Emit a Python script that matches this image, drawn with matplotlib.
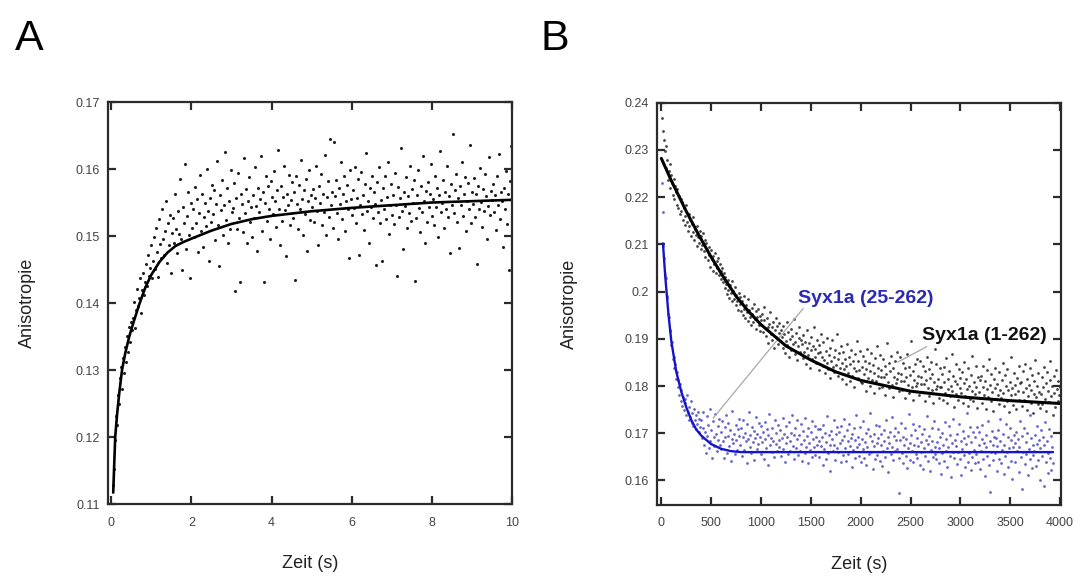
import matplotlib
matplotlib.use("Agg")
import matplotlib.pyplot as plt
from matplotlib.ticker import FuncFormatter
import numpy as np

plt.rcParams["font.family"] = ["Liberation Sans", "DejaVu Sans"]

# ---- panel A: anisotropy rise (values in 1e-4 units) ----
a_y_raw = [
    1128, 1152, 1196, 1231, 1218, 1262, 1249, 1288, 1305, 1271, 1318, 1296, 1335, 1312, 1351, 1327, 1364, 1342, 1371, 1359,
    1378, 1402, 1363, 1389, 1421, 1396, 1408, 1437, 1385, 1419, 1445, 1412, 1432, 1458, 1426, 1471, 1440, 1452, 1486, 1437,
    1463, 1498, 1451, 1512, 1476, 1439, 1525, 1488, 1467, 1541, 1495, 1472, 1508, 1553, 1460, 1519, 1487, 1532, 1445, 1504,
    1527, 1489, 1562, 1511, 1474, 1538, 1503, 1585, 1496, 1449, 1544, 1519, 1607, 1481, 1530, 1566, 1502, 1437, 1549, 1512,
    1541, 1498, 1573, 1520, 1555, 1476, 1534, 1591, 1507, 1562, 1483, 1528, 1549, 1515, 1600, 1538, 1462, 1557, 1521, 1576,
    1533, 1569, 1494, 1548, 1612, 1517, 1455, 1561, 1539, 1584, 1502, 1547, 1626, 1524, 1571, 1489, 1553, 1510, 1598, 1536,
    1542, 1579, 1418, 1556, 1511, 1594, 1527, 1432, 1563, 1548, 1506, 1617, 1535, 1570, 1489, 1552, 1588, 1521, 1544, 1498,
    1561, 1527, 1603, 1545, 1478, 1572, 1536, 1555, 1619, 1508, 1566, 1431, 1549, 1590, 1523, 1574, 1541, 1496, 1582, 1558,
    1533, 1597, 1552, 1514, 1568, 1629, 1541, 1487, 1575, 1522, 1558, 1604, 1539, 1470, 1563, 1546, 1591, 1517, 1554, 1580,
    1527, 1566, 1435, 1589, 1548, 1511, 1576, 1540, 1613, 1555, 1502, 1569, 1533, 1585, 1478, 1552, 1598, 1524, 1561, 1543,
    1570, 1521, 1556, 1604, 1538, 1486, 1574, 1549, 1592, 1517, 1563, 1536, 1621, 1501, 1558, 1582, 1529, 1645, 1547, 1566,
    1512, 1641, 1559, 1583, 1535, 1496, 1571, 1548, 1610, 1526, 1563, 1589, 1507, 1552, 1576, 1540, 1467, 1598, 1555, 1531,
    1568, 1542, 1603, 1519, 1557, 1585, 1472, 1546, 1596, 1533, 1561, 1509, 1577, 1624, 1538, 1552, 1489, 1571, 1544, 1590,
    1527, 1565, 1548, 1457, 1581, 1536, 1603, 1519, 1554, 1462, 1572, 1540, 1589, 1525, 1558, 1611, 1503, 1546, 1577, 1532,
    1561, 1518, 1594, 1547, 1440, 1573, 1529, 1556, 1632, 1538, 1481, 1566, 1545, 1588, 1512, 1559, 1535, 1604, 1523, 1570,
    1549, 1583, 1433, 1527, 1561, 1598, 1542, 1506, 1574, 1536, 1619, 1553, 1490, 1567, 1521, 1580, 1544, 1562, 1608, 1530,
    1555, 1517, 1589, 1543, 1571, 1498, 1561, 1627, 1536, 1550, 1583, 1512, 1566, 1540, 1604, 1528, 1559, 1475, 1577, 1546,
    1653, 1534, 1568, 1593, 1521, 1557, 1482, 1574, 1546, 1611, 1530, 1562, 1588, 1507, 1553, 1579, 1541, 1636, 1519, 1565,
    1548, 1586, 1529, 1563, 1458, 1575, 1540, 1602, 1551, 1514, 1570, 1537, 1593, 1560, 1496, 1545, 1618, 1532, 1567, 1554,
    1578, 1536, 1561, 1509, 1589, 1547, 1623, 1525, 1566, 1552, 1483, 1571, 1540, 1597, 1518, 1563, 1449, 1582, 1635, 1544,
]
a_fit_t = [0.05, 0.1, 0.15, 0.2, 0.27, 0.35, 0.45, 0.55, 0.7, 0.85, 1.0, 1.2, 1.4, 1.6, 1.8,
           2.0, 2.5, 3.0, 3.5, 4.0, 5.0, 6.0, 7.0, 8.0, 9.0, 10.0]
a_fit_y = [0.1117, 0.1200, 0.1236, 0.1265, 0.1300, 0.1325, 0.1350, 0.1370, 0.1398, 0.1423,
           0.1442, 0.1461, 0.1475, 0.1485, 0.1491, 0.1496, 0.1508, 0.1518, 0.1525, 0.1530,
           0.1537, 0.1542, 0.1546, 0.1550, 0.1552, 0.1554]

# ---- panel B: Syx1a (1-262), black ----
b_black_raw = [
    2368, 2341, 2322, 2297, 2308, 2262, 2279, 2236, 2255, 2271, 2219, 2247, 2230, 2205, 2238, 2196, 2224, 2211, 2183, 2217, 2178, 2202, 2164, 2195, 2171,
    2189, 2152, 2176, 2160, 2141, 2183, 2147, 2129, 2165, 2138, 2152, 2117, 2144, 2126, 2158, 2109, 2133, 2120, 2097, 2139, 2115, 2102, 2128, 2091, 2117,
    2098, 2125, 2086, 2109, 2073, 2102, 2089, 2066, 2094, 2078, 2052, 2087, 2069, 2043, 2075, 2058, 2081, 2040, 2064, 2049, 2071, 2035, 2058, 2044, 2027,
    2050, 2021, 2039, 2008, 2031, 2016, 1994, 2025, 2003, 1987, 2014, 1998, 2022, 1979, 2001, 1985, 2009, 1971, 1993, 1980, 1962, 1997, 1974, 1988, 1958,
    1979, 1951, 1990, 1963, 1944, 1972, 1956, 1985, 1938, 1961, 1947, 1929, 1966, 1952, 1935, 1974, 1941, 1958, 1921, 1946, 1963, 1930, 1949, 1917, 1940,
    1952, 1914, 1939, 1968, 1922, 1905, 1943, 1926, 1891, 1931, 1957, 1910, 1924, 1898, 1936, 1881, 1919, 1945, 1903, 1927, 1889, 1912, 1934, 1896, 1918,
    1904, 1928, 1881, 1911, 1870, 1896, 1935, 1887, 1915, 1862, 1899, 1921, 1876, 1906, 1889, 1941, 1868, 1893, 1913, 1855, 1884, 1902, 1925, 1872, 1897,
    1888, 1859, 1907, 1873, 1894, 1846, 1880, 1918, 1865, 1891, 1839, 1876, 1903, 1857, 1884, 1926, 1862, 1879, 1848, 1897, 1869, 1834, 1886, 1872, 1910,
    1861, 1842, 1893, 1855, 1827, 1874, 1849, 1902, 1835, 1866, 1818, 1881, 1853, 1897, 1840, 1862, 1829, 1876, 1845, 1911, 1857, 1822, 1869, 1838, 1884,
    1849, 1815, 1872, 1836, 1858, 1804, 1843, 1889, 1827, 1861, 1810, 1846, 1877, 1822, 1853, 1798, 1839, 1868, 1831, 1895, 1817, 1852, 1834, 1874, 1808,
    1841, 1806, 1863, 1825, 1852, 1790, 1836, 1879, 1817, 1848, 1801, 1832, 1870, 1813, 1845, 1785, 1828, 1859, 1810, 1885, 1822, 1839, 1796, 1866, 1819,
    1834, 1798, 1857, 1820, 1843, 1781, 1826, 1892, 1809, 1848, 1795, 1831, 1864, 1803, 1838, 1776, 1819, 1852, 1806, 1873, 1814, 1828, 1789, 1861, 1811,
    1826, 1792, 1849, 1811, 1838, 1774, 1819, 1867, 1802, 1841, 1785, 1823, 1896, 1797, 1832, 1770, 1812, 1846, 1799, 1858, 1807, 1821, 1780, 1853, 1804,
    1819, 1787, 1843, 1805, 1831, 1769, 1813, 1862, 1796, 1835, 1779, 1817, 1851, 1791, 1826, 1765, 1808, 1879, 1793, 1847, 1801, 1815, 1774, 1838, 1798,
    1797, 1826, 1771, 1840, 1808, 1785, 1859, 1764, 1815, 1793, 1832, 1778, 1801, 1868, 1789, 1822, 1756, 1811, 1847, 1783, 1804, 1770, 1836, 1795, 1818,
    1786, 1829, 1763, 1807, 1851, 1779, 1815, 1794, 1758, 1838, 1801, 1772, 1824, 1790, 1863, 1768, 1809, 1784, 1843, 1797, 1753, 1820, 1788, 1812, 1775,
    1821, 1765, 1798, 1842, 1781, 1810, 1752, 1834, 1793, 1776, 1857, 1803, 1769, 1826, 1787, 1748, 1815, 1796, 1839, 1772, 1805, 1782, 1761, 1830, 1791,
    1774, 1812, 1849, 1786, 1757, 1823, 1799, 1768, 1836, 1792, 1745, 1808, 1781, 1861, 1795, 1760, 1827, 1784, 1802, 1751, 1818, 1789, 1843, 1771, 1806,
    1809, 1758, 1832, 1787, 1771, 1846, 1796, 1749, 1815, 1779, 1803, 1838, 1765, 1792, 1824, 1742, 1784, 1811, 1855, 1776, 1799, 1762, 1828, 1788, 1753,
    1783, 1819, 1761, 1797, 1840, 1773, 1806, 1747, 1829, 1790, 1766, 1813, 1852, 1778, 1801, 1739, 1822, 1785, 1756, 1834, 1794, 1769, 1810, 1781, 1798,
]
b_black_fit_t = [0, 100, 250, 375, 500, 625, 750, 875, 1000, 1250, 1500, 1750, 2000, 2500, 3000, 3500, 4000]
b_black_fit_y = [0.2282, 0.2235, 0.2170, 0.2120, 0.2073, 0.2030, 0.1990, 0.1958, 0.1930,
                 0.1885, 0.1855, 0.1830, 0.1812, 0.1789, 0.1777, 0.1769, 0.1763]

# ---- panel B: Syx1a (25-262), blue ----
b_blue_raw = [
    2231, 2168, 2097, 2071, 2035, 2028, 1991, 1987, 1953, 1947, 1918, 1916, 1887, 1893, 1858, 1862, 1838, 1847, 1815, 1829, 1798, 1812, 1781, 1804, 1769,
    1791, 1758, 1776, 1749, 1772, 1763, 1738, 1781, 1745, 1729, 1756, 1734, 1768, 1722, 1742, 1715, 1751, 1727, 1708, 1739, 1719, 1746, 1702, 1731, 1714,
    1728, 1689, 1711, 1745, 1676, 1702, 1659, 1737, 1694, 1718, 1668, 1751, 1683, 1706, 1647, 1725, 1691, 1672, 1740, 1698, 1663, 1716, 1685, 1731, 1674,
    1702, 1667, 1726, 1684, 1648, 1713, 1691, 1739, 1659, 1695, 1722, 1673, 1706, 1641, 1688, 1747, 1679, 1699, 1655, 1718, 1686, 1664, 1709, 1694, 1731,
    1676, 1711, 1652, 1693, 1728, 1665, 1701, 1684, 1637, 1719, 1688, 1746, 1670, 1697, 1658, 1714, 1681, 1704, 1643, 1690, 1735, 1667, 1699, 1678, 1721,
    1692, 1655, 1716, 1681, 1703, 1646, 1724, 1687, 1669, 1709, 1632, 1696, 1741, 1674, 1690, 1660, 1712, 1683, 1649, 1727, 1678, 1700, 1663, 1718, 1685,
    1671, 1706, 1652, 1689, 1733, 1666, 1698, 1640, 1715, 1679, 1693, 1657, 1724, 1684, 1662, 1701, 1738, 1673, 1645, 1696, 1710, 1668, 1687, 1729, 1654,
    1697, 1663, 1720, 1678, 1641, 1705, 1686, 1658, 1732, 1671, 1694, 1636, 1712, 1680, 1665, 1703, 1649, 1726, 1688, 1670, 1715, 1653, 1691, 1676, 1708,
    1684, 1650, 1709, 1672, 1693, 1633, 1718, 1667, 1700, 1645, 1681, 1736, 1659, 1696, 1674, 1621, 1705, 1688, 1662, 1727, 1676, 1643, 1698, 1669, 1713,
    1660, 1702, 1679, 1638, 1715, 1686, 1654, 1695, 1731, 1668, 1641, 1707, 1683, 1657, 1720, 1672, 1690, 1628, 1699, 1664, 1711, 1648, 1685, 1739, 1670,
    1693, 1652, 1677, 1714, 1639, 1688, 1666, 1725, 1647, 1681, 1701, 1632, 1670, 1709, 1657, 1694, 1743, 1661, 1684, 1625, 1698, 1673, 1645, 1717, 1679,
    1654, 1689, 1716, 1642, 1675, 1698, 1631, 1663, 1707, 1684, 1649, 1728, 1668, 1691, 1617, 1679, 1702, 1656, 1735, 1671, 1643, 1695, 1662, 1712, 1686,
    1667, 1703, 1573, 1648, 1685, 1722, 1659, 1693, 1636, 1676, 1710, 1651, 1688, 1626, 1669, 1741, 1680, 1644, 1697, 1662, 1719, 1638, 1674, 1706, 1655,
    1690, 1647, 1672, 1715, 1633, 1681, 1660, 1699, 1624, 1668, 1708, 1652, 1686, 1737, 1641, 1677, 1695, 1619, 1664, 1711, 1683, 1650, 1726, 1671, 1657,
    1645, 1682, 1709, 1637, 1669, 1693, 1614, 1658, 1701, 1676, 1642, 1724, 1663, 1688, 1629, 1671, 1716, 1652, 1696, 1607, 1679, 1661, 1731, 1648, 1685,
    1673, 1634, 1698, 1661, 1720, 1646, 1684, 1612, 1667, 1705, 1653, 1690, 1628, 1677, 1742, 1640, 1694, 1659, 1713, 1622, 1681, 1649, 1702, 1665, 1636,
    1691, 1657, 1714, 1639, 1676, 1702, 1625, 1663, 1687, 1718, 1645, 1679, 1609, 1670, 1697, 1652, 1726, 1632, 1684, 1575, 1661, 1705, 1643, 1674, 1693,
    1658, 1689, 1621, 1672, 1707, 1646, 1683, 1731, 1637, 1665, 1699, 1613, 1676, 1651, 1719, 1660, 1692, 1628, 1668, 1710, 1642, 1685, 1604, 1671, 1696,
    1679, 1640, 1703, 1663, 1688, 1618, 1671, 1725, 1649, 1694, 1582, 1660, 1712, 1635, 1682, 1656, 1700, 1611, 1667, 1738, 1645, 1690, 1627, 1674, 1653,
    1662, 1697, 1631, 1678, 1715, 1644, 1686, 1601, 1669, 1706, 1652, 1692, 1588, 1675, 1723, 1639, 1683, 1615, 1659, 1708, 1647, 1694, 1622, 1671, 1636,
]
b_blue_fit_t = [16, 40, 70, 100, 150, 200, 250, 300, 350, 400, 500, 600, 700, 800, 1500, 3930]
b_blue_fit_y = [0.2102, 0.2030, 0.1955, 0.1895, 0.1830, 0.1788, 0.1755, 0.1728, 0.1708,
                0.1695, 0.1677, 0.1667, 0.1662, 0.1660, 0.1660, 0.1660]

labels_b = ["Syx1a (25-262)", "Syx1a (1-262)"]
label_pos_b = [(2050, 0.1986), (3243, 0.1907)]
leader_b = [((1422, 520), (0.1964, 0.1732)), ((2661, 2375), (0.1883, 0.1851))]

a_y = np.array(a_y_raw) / 1e4
a_t = np.linspace(0.05, 10.0, len(a_y))
b_black = np.array(b_black_raw) / 1e4
b_black_t = np.linspace(10, 4000, len(b_black))
b_blue = np.array(b_blue_raw) / 1e4
b_blue_t = np.linspace(5, 3930, len(b_blue))

BLUE_PTS = "#4040b8"
BLUE_LINE = "#1414c8"
BLUE_TEXT = "#2a2ab4"


def style_axis(ax):
    for spine in ax.spines.values():
        spine.set_color("#2b2b2b")
        spine.set_linewidth(1.6)
    ax.tick_params(direction="in", length=6, width=1.6, color="#2b2b2b",
                   top=True, right=True, labelsize=9, labelcolor="#444444")
    ax.tick_params(axis="x", pad=9)
    ax.tick_params(axis="y", pad=6)
    ax.yaxis.set_major_formatter(FuncFormatter(lambda v, p: f"{v:g}"))
    ax.set_xlabel("Zeit (s)", fontsize=13, color="#222222")
    ax.set_ylabel("Anisotropie", fontsize=13, color="#222222")
    ax.xaxis.set_label_coords(0.5, -0.128)


fig = plt.figure(figsize=(10.8, 5.77), dpi=100)

ax_a = fig.add_axes([0.1, 0.1265, 0.3741, 0.6967])
ax_a.plot(a_t, a_y, ls="none", marker="o", ms=2.2, mew=0, color="#1e1e1e")
ax_a.plot(a_fit_t, a_fit_y, color="black", lw=1.9, solid_capstyle="round", solid_joinstyle="round")
ax_a.set_xlim(-0.08, 10.0)
ax_a.set_ylim(0.11, 0.17)
ax_a.set_xticks([0, 2, 4, 6, 8, 10])
ax_a.set_yticks([0.11, 0.12, 0.13, 0.14, 0.15, 0.16, 0.17])
style_axis(ax_a)
ax_a.yaxis.set_label_coords(-0.178, 0.5)

ax_b = fig.add_axes([0.6083, 0.1248, 0.3741, 0.6972])
ax_b.plot(b_black_t, b_black, ls="none", marker="o", ms=2.0, mew=0, color="#303030", alpha=0.9)
ax_b.plot(b_blue_t, b_blue, ls="none", marker="o", ms=2.0, mew=0, color=BLUE_PTS, alpha=0.8)
for (xs, ys) in leader_b:
    ax_b.plot(xs, ys, color="#a8a8a8", lw=0.9)
ax_b.plot(b_black_fit_t, b_black_fit_y, color="black", lw=2.2, solid_capstyle="round", solid_joinstyle="round")
ax_b.plot(b_blue_fit_t, b_blue_fit_y, color=BLUE_LINE, lw=1.7, solid_capstyle="round", solid_joinstyle="round")
ax_b.text(*label_pos_b[0], labels_b[0], color=BLUE_TEXT, fontsize=14,
          fontweight="bold", ha="center", va="center")
ax_b.text(*label_pos_b[1], labels_b[1], color="#111111", fontsize=14,
          fontweight="bold", ha="center", va="center")
ax_b.set_xlim(-44, 4010)
ax_b.set_ylim(0.1548, 0.24)
ax_b.set_xticks(np.arange(0, 4001, 500))
ax_b.set_yticks([0.16, 0.17, 0.18, 0.19, 0.20, 0.21, 0.22, 0.23, 0.24])
style_axis(ax_b)
ax_b.yaxis.set_label_coords(-0.196, 0.5)

fig.text(0.0139, 0.9133, "A", fontsize=31, va="baseline", ha="left", color="black")
fig.text(0.5, 0.9133, "B", fontsize=31, va="baseline", ha="left", color="black")

fig.savefig("out.png", dpi=100)
